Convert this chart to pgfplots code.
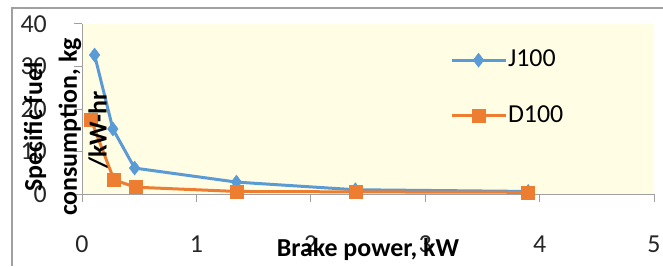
\documentclass[border=0pt]{standalone}
\usepackage{fontspec}
\setmainfont{Carlito}
\usepackage{pgfplots}
\pgfplotsset{compat=1.18}
\definecolor{jblue}{RGB}{91,155,213}
\definecolor{dorange}{RGB}{237,125,49}
\definecolor{bgyellow}{RGB}{255,254,229}
\definecolor{axgray}{RGB}{160,160,160}
\begin{document}
\fontsize{26}{30}\selectfont
\begin{tikzpicture}[x=1bp,y=1bp]
\useasboundingbox (0,0) rectangle (663,266);
\draw[axgray, line width=1.5bp] (12,0) -- (12,258) -- (663,258);
\begin{axis}[
  at={(82bp,72bp)}, anchor=south west,
  scale only axis, width=572bp, height=170bp,
  xmin=0, xmax=5, ymin=0, ymax=40,
  xtick={0,1,2,3,4,5}, ytick={0,10,20,30,40},
  axis x line*=bottom, axis y line*=left,
  axis line style={axgray, line width=1bp},
  tick style={axgray, line width=1bp},
  tick align=outside, major tick length=8bp,
  axis background/.style={fill=bgyellow},
  /pgf/number format/assume math mode=true,
  ticklabel style={font=\fontsize{26}{30}\selectfont, text=black!85},
  xticklabel style={anchor=center, inner sep=0pt, yshift=-42bp},
  yticklabel style={anchor=east, inner sep=0pt, xshift=-27bp},
  xlabel={\textbf{Brake power, kW}},
  xlabel style={at={(axis description cs:0.5,0)}, anchor=base, inner sep=0pt, yshift=-62bp, font=\fontsize{26}{30}\selectfont},
  legend style={draw=none, fill=none, at={(axis description cs:0.643,0.6235)}, anchor=west, inner sep=0pt, font=\fontsize{26}{30}\selectfont, row sep=33bp, nodes={inner sep=1bp}},
  legend cell align=left,
  legend image code/.code={\draw[mark repeat=2, mark phase=2, #1] plot coordinates {(0bp,0bp) (27bp,0bp) (54bp,0bp)};},
  clip=false,
]
\addplot[jblue, line width=3bp, mark=diamond*, mark size=7bp, mark options={solid, fill=jblue, draw=jblue, line width=0.5bp}]
  coordinates {(0.11,32.7) (0.27,15.3) (0.46,6.1) (1.35,2.8) (2.39,1.0) (3.90,0.6)};
\addlegendentry{J100}
\addplot[dorange, line width=3bp, mark=square*, mark size=6.5bp, mark options={solid, fill=dorange, draw=dorange, line width=0.5bp}]
  coordinates {(0.08,17.4) (0.28,3.3) (0.47,1.6) (1.35,0.6) (2.39,0.5) (3.90,0.4)};
\addlegendentry{D100}
\end{axis}
\node[rotate=90, font=\bfseries\fontsize{26}{30}\selectfont, inner sep=0pt] at (35,139) {Specific fuel};
\node[rotate=90, font=\bfseries\fontsize{26}{30}\selectfont, inner sep=0pt] at (70,139) {consumption, kg};
\node[rotate=90, font=\bfseries\fontsize{26}{30}\selectfont, inner sep=0pt] at (98,136) {/kW-hr};
\end{tikzpicture}
\end{document}
